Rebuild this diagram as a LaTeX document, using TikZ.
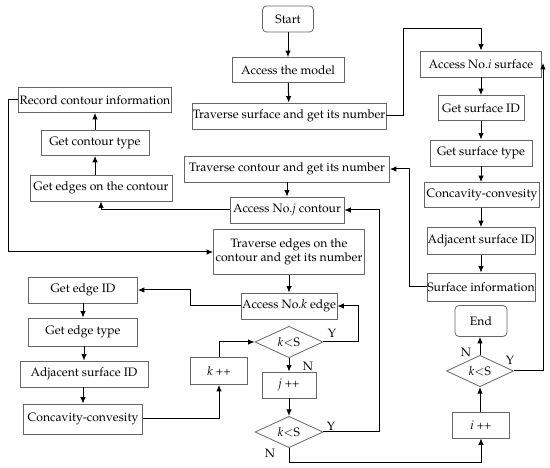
\documentclass[tikz,border=0pt]{standalone}
\usepackage[T1]{fontenc}
\usepackage{mathpazo}
\usetikzlibrary{shapes.geometric,arrows.meta}
\begin{document}
\begin{tikzpicture}[x=1pt,y=-1pt,
  font=\fontsize{12.2}{14.5}\selectfont,
  box/.style n args={2}{draw=black!60, line width=0.8pt, minimum width=#1pt, minimum height=#2pt, inner sep=0pt, align=center},
  rbox/.style n args={2}{box={#1}{#2}, rounded corners=4pt},
  dia/.style n args={2}{draw=black!60, line width=0.8pt, diamond, minimum width=#1pt, minimum height=#2pt, inner sep=0pt},
  arr/.style={draw=black, line width=1pt, -{Latex[length=6.5pt,width=5.5pt]}},
  lab/.style={inner sep=0pt}]
\useasboundingbox (0,0) rectangle (550,468);
% top middle
\node[rbox={51}{26}] (start) at (288,19) {Start};
\node[box={112}{25}] (model) at (288,70) {Access the model};
\node[box={194}{26}] (travs) at (289,116) {Traverse surface and get its number};
% right column
\node[box={121}{26}] (accI) at (481,64) {Access No.\textit{i} surface};
\node[box={86}{25}] (sid) at (481,108) {Get surface ID};
\node[box={102}{26}] (stype) at (481,153) {Get surface type};
\node[box={115}{25}] (ccR) at (482,195) {Concavity-convesity};
\node[box={108}{27}] (adjR) at (481,241) {Adjacent surface ID};
\node[box={108}{28}] (sinfo) at (481,287) {Surface information};
\node[rbox={52}{31}] (endn) at (481,321) {End};
\node[dia={67}{29}] (d3) at (480,371) {\textit{k}$<$S};
\node[box={57}{26}] (iinc) at (481,425) {\textit{i} ++};
% left top column
\node[box={153}{25}] (rec) at (95,100) {Record contour information};
\node[box={108}{25}] (ctype) at (95,143) {Get contour type};
\node[box={142}{26}] (gedges) at (101,188) {Get edges on the contour};
% middle
\node[box={205}{26}] (travc) at (287,169) {Traverse contour and get its number};
\node[box={114}{26}] (accJ) at (287,210) {Access No.\textit{j} contour};
\node[box={151}{45}] (trave) at (289,252) {Traverse edges on the\\contour and get its number};
\node[box={96}{26}] (accK) at (289,306) {Access No.\textit{k} edge};
\node[dia={68}{29}] (d1) at (289,342) {\textit{k}$<$S};
\node[box={54}{26}] (jinc) at (289,385) {\textit{j} ++};
\node[dia={68}{28}] (d2) at (289,432) {\textit{k}$<$S};
\node[box={57}{27}] (kinc) at (219,371) {\textit{k} ++};
% left bottom column
\node[box={109}{26}] (eid) at (83,290) {Get edge ID};
\node[box={109}{28}] (etype) at (83,332) {Get edge type};
\node[box={128}{26}] (adjL) at (84,374) {Adjacent surface ID};
\node[box={119}{30}] (ccL) at (83,419) {Concavity-convesity};
% labels
\node[lab] (y1) at (332,333) {Y};
\node[lab] (n1) at (308,366) {N};
\node[lab] (y2) at (331,426) {Y};
\node[lab] (n2) at (270,453) {N};
\node[lab] (n3) at (466,352) {N};
\node[lab] (y3) at (510,360) {Y};
% coordinates
\coordinate (accIr) at (543,63);
% connectors
\draw[arr] (start) -- (model);
\draw[arr] (model) -- (travs);
\draw[arr] (travs.east) -- (403,116) |- (481,29) -- (accI.north);
\draw[arr] (accI) -- (sid);
\draw[arr] (sid) -- (stype);
\draw[arr] (stype) -- (ccR.north -| stype.south);
\draw[arr] (ccR.south -| adjR.north) -- (adjR);
\draw[arr] (adjR) -- (sinfo);
\draw[arr] (sinfo.west) -- (409,287) |- (travc.east);
\draw[arr] (travc.south -| accJ.north) -- (accJ);
\draw[arr] (accJ.west) -| (gedges.south);
\draw[arr] (gedges.north -| ctype.south) -- (ctype);
\draw[arr] (ctype) -- (rec);
\draw[arr] (rec.west) -- (8,100) |- (trave.west);
\draw[arr] (trave) -- (accK);
\draw[arr] (accK.west) -- (190,306) |- (eid.east);
\draw[arr] (eid) -- (etype);
\draw[arr] (etype.south -| adjL.north) -- (adjL);
\draw[arr] (adjL.south -| ccL.north) -- (ccL);
\draw[arr] (ccL.east) -| (kinc.south);
\draw[arr] (kinc.north) |- (d1.west);
\draw[arr] (d1.east) -- (358,342) |- (accK.east);
\draw[arr] (d1) -- (jinc);
\draw[arr] (jinc) -- (d2);
\draw[arr] (d2.east) -- (379,432) |- (accJ.east);
\draw[arr] (d2.south) -- (289,463) -| (iinc.south);
\draw[arr] (iinc.north -| d3.south) -- (d3.south);
\draw[arr] (d3.north) -- (endn.south -| d3.north);
\draw[arr] (d3.east) -| (accIr);
\end{tikzpicture}
\end{document}
